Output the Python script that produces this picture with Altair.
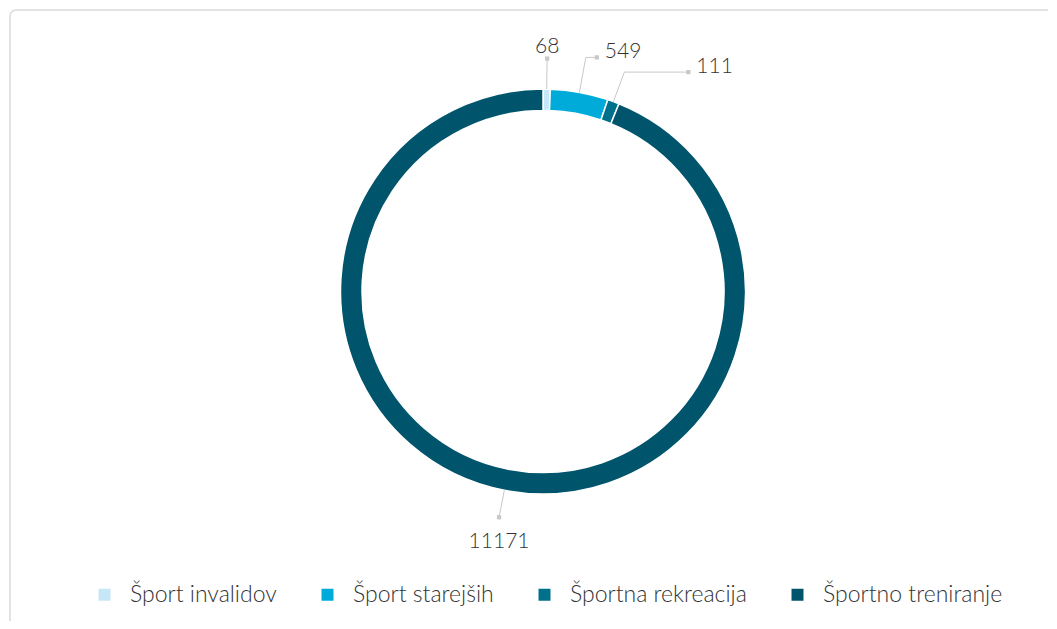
import altair as alt
import pandas as pd

# ---- data ----
categories = ["Šport invalidov", "Šport starejših", "Športna rekreacija", "Športno treniranje"]
values = [68, 549, 111, 11171]
colors = ["#c6e7f7", "#00abda", "#00708d", "#00546b"]

# ---- label connector layout (px) ----
connector_reach = [233, 238, 234, 230]   # radial distance of the connector elbow
connector_run = [0, 11, 64, 0]           # horizontal run after the elbow

W, H = 1038, 611          # view (svg minus padding), fits the window without scrolling
CX, CY = 533, 281.5       # donut centre inside the view
R_OUT, R_IN = 202.5, 181

df = pd.DataFrame({
    "cat": categories,
    "value": values,
    "idx": list(range(len(values))),
    "reach": connector_reach,
    "run": connector_run,
})

FONT = "Source Sans Pro, Lato, sans-serif"
TEXT = "#333333"
LINE = "#c8c8c8"

xs = alt.Scale(domain=[-CX, W - CX], nice=False, zero=False)
ys = alt.Scale(domain=[-(H - CY), CY], nice=False, zero=False)

base = alt.Chart(df)

# rounded frame that runs off the right and bottom edges of the page
frame = alt.Chart(pd.DataFrame({"k": [0]})).mark_rect(
    fill="white", stroke="#dadada", strokeWidth=1.5, cornerRadius=6
).encode(
    x=alt.value(0), x2=alt.value(W + 40), y=alt.value(0), y2=alt.value(H + 40)
)

donut = base.mark_arc(outerRadius=R_OUT, innerRadius=R_IN, stroke="white", strokeWidth=1.5).encode(
    theta=alt.Theta("value:Q", stack=True),
    order=alt.Order("idx:Q"),
    x=alt.X(datum=0, type="quantitative", scale=xs, axis=None),
    y=alt.Y(datum=0, type="quantitative", scale=ys, axis=None),
    color=alt.Color(
        "cat:N",
        scale=alt.Scale(domain=categories, range=colors),
        sort=categories,
        legend=alt.Legend(
            title=None,
            orient="none",
            direction="horizontal",
            columns=4,
            legendX=83,
            legendY=573,
            symbolType="square",
            symbolSize=144,
            symbolStrokeWidth=0,
            labelFont=FONT,
            labelFontSize=23,
            labelFontWeight=300,
            labelColor=TEXT,
            labelOffset=14,
            labelLimit=400,
            columnPadding=39,
            padding=0,
        ),
    ),
)

geo = (
    base.transform_joinaggregate(total="sum(value)")
    .transform_window(cum="sum(value)", sort=[alt.SortField("idx")], frame=[None, 0])
    .transform_calculate(mid="(datum.cum - datum.value / 2) / datum.total * 2 * PI")
    .transform_calculate(
        x0=f"{R_OUT} * sin(datum.mid)",
        y0=f"{R_OUT} * cos(datum.mid)",
        x1="datum.reach * sin(datum.mid)",
        y1="datum.reach * cos(datum.mid)",
    )
    .transform_calculate(x2="datum.x1 + datum.run")
)

radial = geo.mark_rule(color=LINE, strokeWidth=1).encode(
    x=alt.X("x0:Q", scale=xs, axis=None),
    y=alt.Y("y0:Q", scale=ys, axis=None),
    x2="x1:Q",
    y2="y1:Q",
)
horizontal = geo.mark_rule(color=LINE, strokeWidth=1).encode(
    x=alt.X("x1:Q", scale=xs, axis=None),
    y=alt.Y("y1:Q", scale=ys, axis=None),
    x2="x2:Q",
)
ends = geo.mark_square(color=LINE, size=18, opacity=1).encode(
    x=alt.X("x2:Q", scale=xs, axis=None),
    y=alt.Y("y1:Q", scale=ys, axis=None),
)

label_common = dict(font=FONT, fontSize=21, fontWeight=300, color=TEXT)
lab_top = geo.transform_filter("datum.run == 0 && datum.y1 > 0").mark_text(
    align="center", baseline="alphabetic", dy=-6, **label_common
).encode(
    x=alt.X("x2:Q", scale=xs, axis=None),
    y=alt.Y("y1:Q", scale=ys, axis=None),
    text="value:Q",
)
lab_right = geo.transform_filter("datum.run > 0").mark_text(
    align="left", baseline="alphabetic", dx=8, dy=1, **label_common
).encode(
    x=alt.X("x2:Q", scale=xs, axis=None),
    y=alt.Y("y1:Q", scale=ys, axis=None),
    text="value:Q",
)
lab_bottom = geo.transform_filter("datum.run == 0 && datum.y1 < 0").mark_text(
    align="center", baseline="top", dy=14, **label_common
).encode(
    x=alt.X("x2:Q", scale=xs, axis=None),
    y=alt.Y("y1:Q", scale=ys, axis=None),
    text="value:Q",
)

chart = (
    alt.layer(frame, donut, radial, horizontal, ends, lab_top, lab_right, lab_bottom)
    .properties(
        width=W,
        height=H,
        autosize="none",
        padding={"left": 2, "top": 2, "right": 0, "bottom": 0},
        background="white",
    )
    .configure_view(strokeWidth=0)
)

chart.save("out.html", embed_options={"renderer": "svg", "actions": False})
